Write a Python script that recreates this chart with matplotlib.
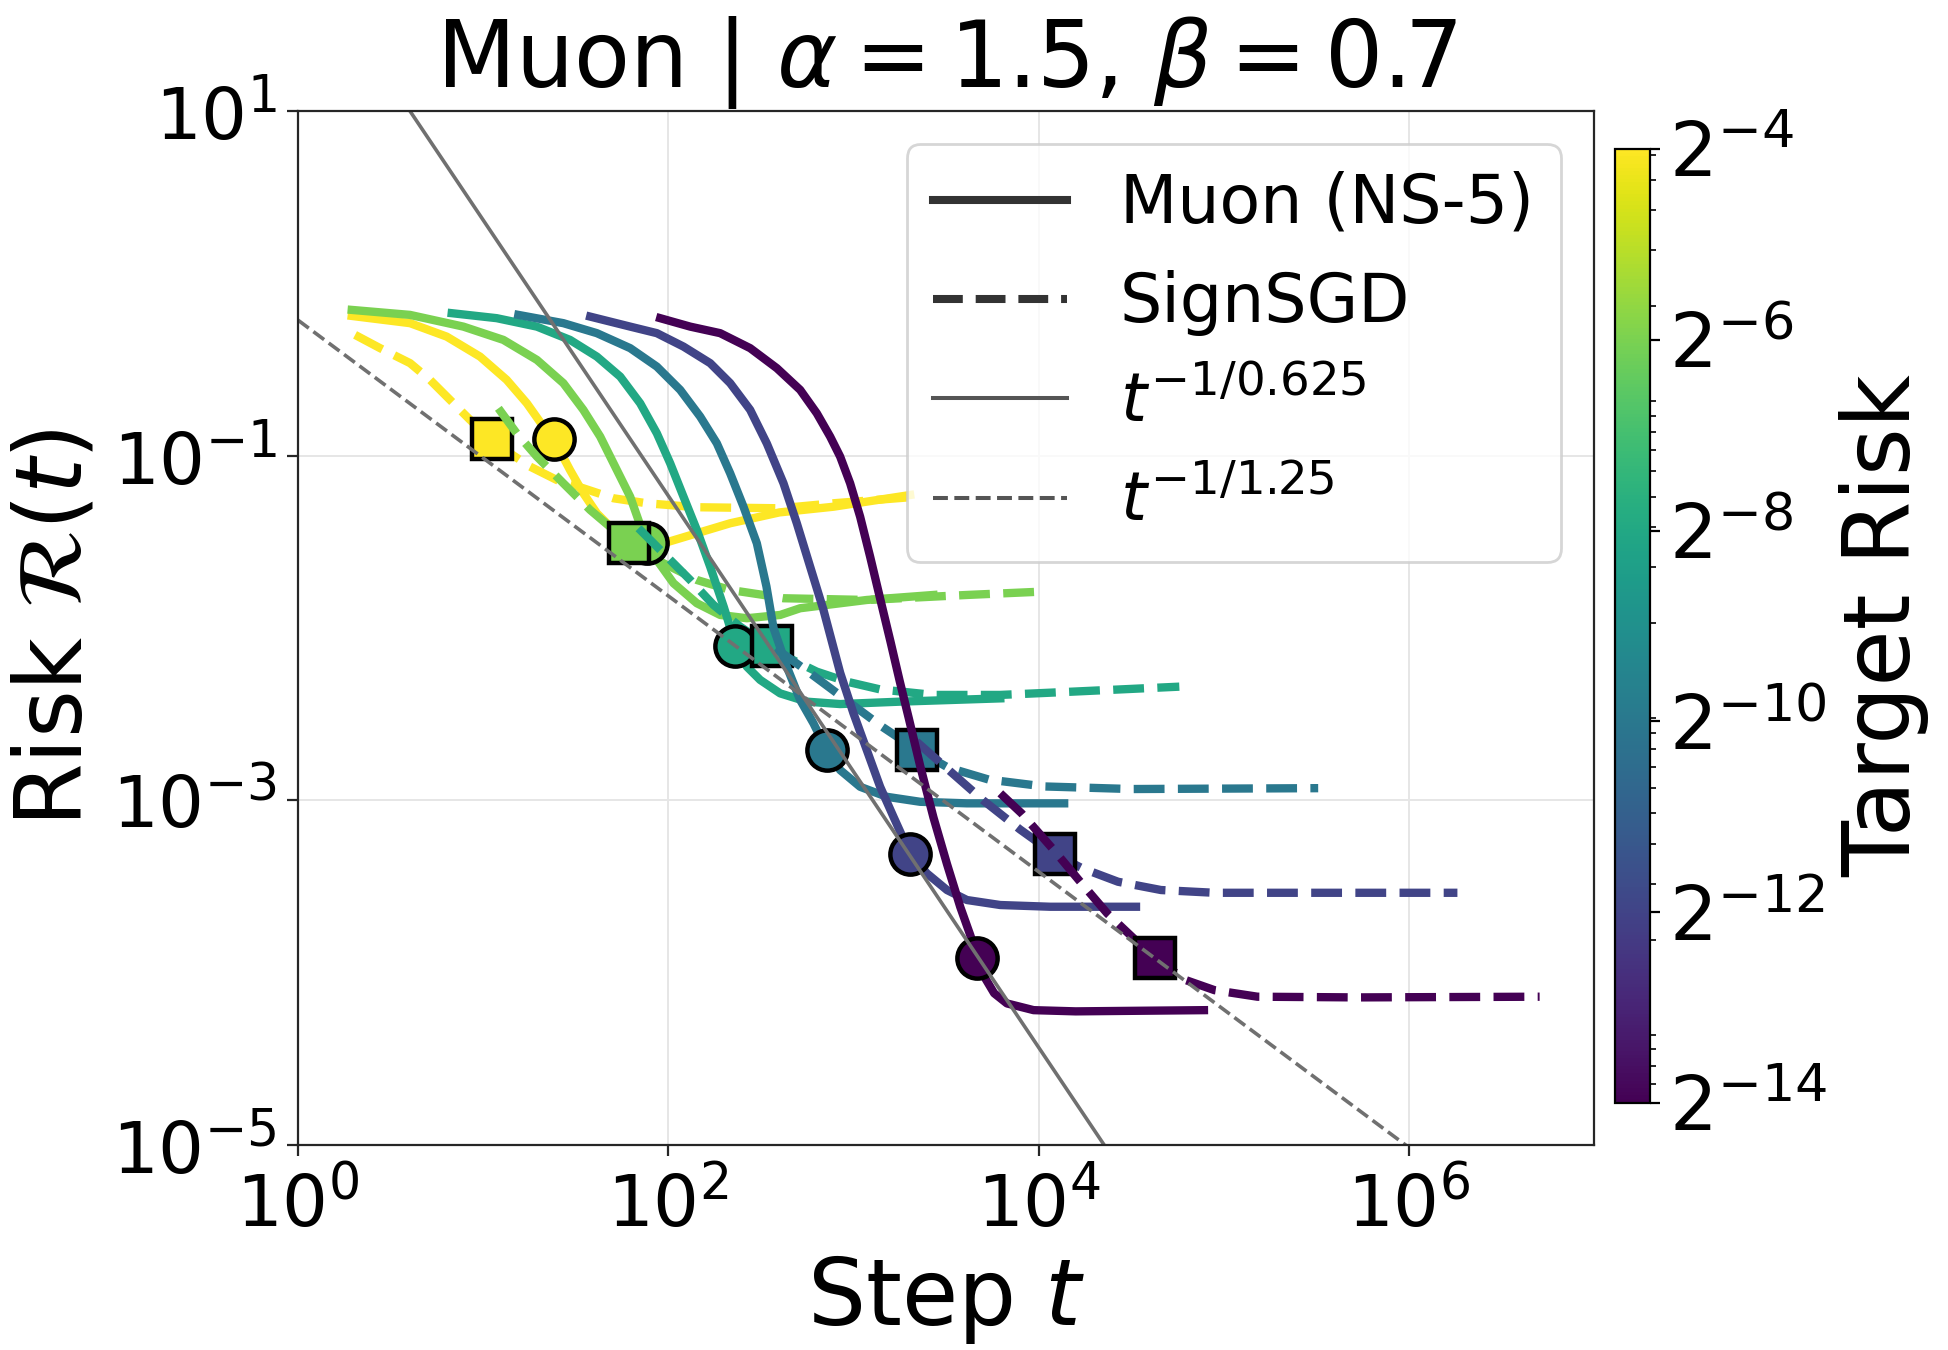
import numpy as np
import matplotlib
matplotlib.use("Agg")
import matplotlib.pyplot as plt
from matplotlib.colors import LogNorm
from matplotlib.lines import Line2D
from matplotlib.ticker import LogLocator, NullLocator, NullFormatter

# target risks (colour) and the risk level where the markers sit
targets = [2**-4, 2**-6, 2**-8, 2**-10, 2**-12, 2**-14]
reach_risk = [2**-3, 2**-5, 2**-7, 2**-9, 2**-11, 2**-13]

# step where each run first reaches reach_risk, as log10(t)
muon_hit = [1.383, 1.884, 2.36, 2.856, 3.306, 3.667]
sign_hit = [1.046, 1.790, 2.56, 3.345, 4.087, 4.628]

# Muon (NS-5) curves: log10(t), log10(risk)
muon_lt = [
    [0.29, 0.605, 0.803, 0.983, 1.127, 1.236, 1.325, 1.383, 1.469, 1.541, 1.614, 1.704, 1.83, 1.974, 2.154, 2.334, 2.6, 2.892, 3.306],
    [0.29, 0.605, 0.893, 1.109, 1.29, 1.433, 1.541, 1.632, 1.722, 1.794, 1.86, 1.884, 1.938, 2.028, 2.154, 2.28, 2.424, 2.604, 2.712, 3.072, 3.432],
    [0.83, 1.073, 1.29, 1.469, 1.614, 1.74, 1.848, 1.938, 2.01, 2.082, 2.154, 2.226, 2.30, 2.36, 2.424, 2.496, 2.604, 2.748, 2.928, 3.252, 3.793],
    [1.19, 1.433, 1.614, 1.794, 1.938, 2.064, 2.172, 2.262, 2.334, 2.406, 2.478, 2.53, 2.568, 2.64, 2.712, 2.784, 2.856, 2.928, 3.036, 3.18, 3.36, 3.612, 4.138],
    [1.578, 1.794, 1.938, 2.082, 2.226, 2.334, 2.442, 2.532, 2.622, 2.694, 2.766, 2.838, 2.928, 3.0, 3.072, 3.144, 3.216, 3.306, 3.396, 3.505, 3.613, 3.793, 4.063, 4.526],
    [1.956, 2.118, 2.28, 2.442, 2.586, 2.712, 2.802, 2.874, 2.928, 2.982, 3.036, 3.09, 3.144, 3.2, 3.25, 3.30, 3.36, 3.432, 3.505, 3.577, 3.63, 3.667, 3.71, 3.76, 3.829, 3.973, 4.2, 4.893],
]
muon_lr = [
    [-0.19, -0.232, -0.31, -0.426, -0.561, -0.697, -0.832, -0.909, -1.084, -1.219, -1.335, -1.432, -1.509, -1.509, -1.451, -1.393, -1.33, -1.297, -1.229],
    [-0.155, -0.184, -0.252, -0.329, -0.445, -0.58, -0.735, -0.89, -1.084, -1.239, -1.44, -1.51, -1.606, -1.741, -1.857, -1.925, -1.944, -1.925, -1.886, -1.838, -1.809],
    [-0.174, -0.203, -0.252, -0.329, -0.426, -0.542, -0.697, -0.871, -1.045, -1.239, -1.432, -1.645, -1.88, -2.09, -2.225, -2.302, -2.38, -2.428, -2.442, -2.428, -2.409],
    [-0.184, -0.232, -0.29, -0.377, -0.484, -0.619, -0.774, -0.929, -1.103, -1.297, -1.509, -1.76, -2.0, -2.225, -2.418, -2.554, -2.71, -2.825, -2.922, -2.98, -3.009, -3.018, -3.018],
    [-0.194, -0.252, -0.29, -0.368, -0.464, -0.58, -0.735, -0.93, -1.161, -1.393, -1.645, -1.896, -2.26, -2.496, -2.709, -2.922, -3.096, -3.31, -3.424, -3.521, -3.579, -3.608, -3.618, -3.618],
    [-0.203, -0.252, -0.29, -0.377, -0.493, -0.619, -0.755, -0.89, -1.006, -1.161, -1.355, -1.587, -1.83, -2.08, -2.31, -2.53, -2.80, -3.10, -3.37, -3.62, -3.78, -3.9, -4.03, -4.12, -4.179, -4.218, -4.225, -4.218],
]

# SignSGD curves: log10(t), log10(risk)
sign_lt = [
    [0.308, 0.443, 0.605, 0.713, 0.821, 0.929, 1.046, 1.145, 1.253, 1.398, 1.541, 1.704, 1.884, 2.154, 2.604, 2.892, 3.306],
    [1.082, 1.181, 1.29, 1.433, 1.578, 1.79, 1.974, 2.154, 2.334, 2.514, 2.622, 3.072, 3.612, 4.009],
    [1.839, 1.974, 2.118, 2.244, 2.388, 2.56, 2.68, 2.802, 2.964, 3.144, 3.432, 3.793, 4.063, 4.76],
    [2.58, 2.75, 2.95, 3.15, 3.345, 3.51, 3.73, 4.03, 4.5, 5.51],
    [3.34, 3.52, 3.70, 3.90, 4.087, 4.236, 4.429, 4.661, 4.95, 5.529, 6.262],
    [3.793, 3.908, 4.082, 4.217, 4.371, 4.628, 4.796, 4.95, 5.182, 5.722, 6.706],
]
sign_lr = [
    [-0.30, -0.377, -0.464, -0.561, -0.677, -0.793, -0.909, -0.987, -1.064, -1.142, -1.19, -1.248, -1.277, -1.30, -1.306, -1.277, -1.242],
    [-0.726, -0.871, -1.006, -1.161, -1.316, -1.509, -1.625, -1.722, -1.78, -1.809, -1.828, -1.838, -1.809, -1.79],
    [-1.422, -1.567, -1.722, -1.867, -1.993, -2.118, -2.19, -2.254, -2.312, -2.357, -2.389, -2.389, -2.376, -2.341],
    [-2.12, -2.25, -2.41, -2.57, -2.71, -2.81, -2.88, -2.92, -2.935, -2.93],
    [-2.66, -2.83, -3.0, -3.17, -3.314, -3.395, -3.473, -3.521, -3.537, -3.537, -3.537],
    [-2.96, -3.076, -3.289, -3.463, -3.657, -3.918, -4.044, -4.102, -4.14, -4.144, -4.14],
]

# reference power laws C * t^(-p)
ref_steps = [1, 1e7]
ref_fast = (92.5, 1 / 0.625)
ref_slow = (0.61, 1 / 1.25)

cmap = plt.cm.viridis
norm = LogNorm(vmin=2**-14, vmax=2**-4)

fig = plt.figure(figsize=(9.74, 6.75), dpi=200)
ax = fig.add_axes([0.153, 0.1519, 0.6653, 0.766])
cax = fig.add_axes([0.829, 0.183, 0.018, 0.7067])

for i, tr in enumerate(targets):
    c = cmap(norm(tr))
    ax.plot(10 ** np.array(muon_lt[i]), 10 ** np.array(muon_lr[i]), '-', color=c, lw=3.0,
            solid_joinstyle='round')
    ax.plot(10 ** np.array(sign_lt[i]), 10 ** np.array(sign_lr[i]), '--', color=c, lw=3.0)
    ax.plot(10 ** muon_hit[i], reach_risk[i], 'o', color=c, ms=14.5, mec='k', mew=1.6)
    ax.plot(10 ** sign_hit[i], reach_risk[i], 's', color=c, ms=14.5, mec='k', mew=1.6)

t = np.array(ref_steps)
ax.plot(t, ref_fast[0] * t ** -ref_fast[1], '-', color='#707070', lw=1.3)
ax.plot(t, ref_slow[0] * t ** -ref_slow[1], '--', color='#707070', lw=1.3)

ax.set_xscale('log')
ax.set_yscale('log')
ax.set_xlim(1, 1e7)
ax.set_ylim(1e-5, 1e1)
ax.set_xticks([1, 1e2, 1e4, 1e6])
ax.set_yticks([1e-5, 1e-3, 1e-1, 1e1])
ax.xaxis.set_minor_locator(NullLocator())
ax.yaxis.set_minor_locator(NullLocator())
ax.tick_params(labelsize=26, length=4, color='#262626')
ax.tick_params(axis='x', pad=5)
ax.grid(True, color='#e6e6e6', lw=0.7)
ax.set_axisbelow(True)
for s in ax.spines.values():
    s.set_color('#262626')

ax.set_xlabel('Step $t$', fontsize=33)
ax.set_ylabel(r'Risk $\mathcal{R}(t)$', fontsize=33)
ax.set_title(r'Muon | $\alpha = 1.5$, $\beta = 0.7$', fontsize=33)

handles = [
    Line2D([], [], color='#333333', lw=2.9, ls='-'),
    Line2D([], [], color='#333333', lw=2.9, ls='--'),
    Line2D([], [], color='#555555', lw=1.45, ls='-'),
    Line2D([], [], color='#555555', lw=1.45, ls='--'),
]
labels = ['Muon (NS-5)', 'SignSGD', r'$t^{-1/0.625}$', r'$t^{-1/1.25}$']
ax.legend(handles, labels, loc='upper right', fontsize=24)

sm = plt.cm.ScalarMappable(cmap=cmap, norm=norm)
cbar = fig.colorbar(sm, cax=cax)
cbar.set_ticks(targets)
cbar.set_ticklabels([r'$2^{-4}$', r'$2^{-6}$', r'$2^{-8}$', r'$2^{-10}$', r'$2^{-12}$', r'$2^{-14}$'])
cbar.ax.yaxis.set_minor_locator(LogLocator(base=10, subs=np.arange(1, 10)))
cbar.ax.yaxis.set_minor_formatter(NullFormatter())
cbar.ax.tick_params(labelsize=27)
cbar.set_label('Target Risk', fontsize=33)

fig.savefig('out.png', dpi=200)
